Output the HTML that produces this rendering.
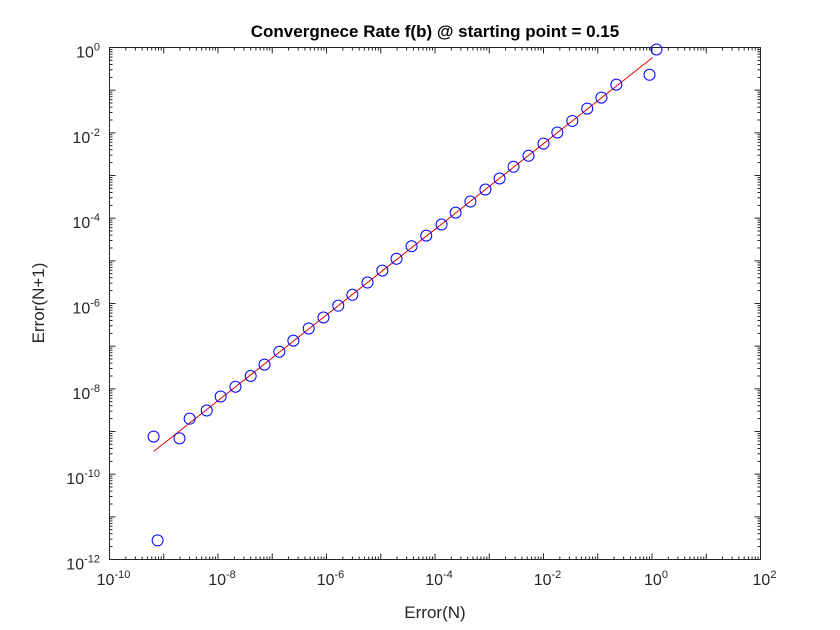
<!DOCTYPE html>
<html><head><meta charset="utf-8"><style>
body{margin:0;background:#fff;}
svg{display:block;font-family:"Liberation Sans",Arial,sans-serif;}
</style></head><body>
<svg id="chart" width="840" height="630" viewBox="0 0 840 630">
<rect x="0" y="0" width="840" height="630" fill="#fff"/>
<rect x="109.5" y="47.5" width="651" height="512" fill="#fff" stroke="#262626" stroke-width="1"/>
<g id="ticks"></g>
<g id="fit"></g>
<g id="pts"></g>
<text x="435" y="37" text-anchor="middle" font-size="17" font-weight="bold" fill="#000">Convergnece Rate f(b) @ starting point = 0.15</text>
<text x="435" y="618" text-anchor="middle" font-size="17" fill="#262626">Error(N)</text>
<text transform="translate(44,303) rotate(-90)" text-anchor="middle" font-size="17" fill="#262626">Error(N+1)</text>
</svg>
<script>
const xVals=[6.5e-10,7.7e-10,1.95e-9,3.0e-9,6.2e-9,1.12e-8,2.1e-8,4.0e-8,7.2e-8,1.35e-7,2.45e-7,4.7e-7,8.8e-7,1.65e-6,3.0e-6,5.7e-6,1.07e-5,1.95e-5,3.7e-5,6.9e-5,1.32e-4,2.4e-4,4.5e-4,8.5e-4,1.55e-3,2.8e-3,5.3e-3,1.0e-2,1.8e-2,3.4e-2,6.4e-2,0.117,0.22,0.9,1.21];
const yVals=[7.6e-10,2.8e-12,6.9e-10,2.0e-9,3.1e-9,6.6e-9,1.12e-8,2.0e-8,3.7e-8,7.4e-8,1.35e-7,2.6e-7,4.7e-7,8.9e-7,1.6e-6,3.1e-6,5.9e-6,1.12e-5,2.2e-5,3.9e-5,7.1e-5,1.35e-4,2.45e-4,4.7e-4,8.5e-4,1.6e-3,2.9e-3,5.6e-3,1.02e-2,1.9e-2,3.7e-2,6.7e-2,0.135,0.23,0.9];
const fitX=[6.5e-10,1.02];
const fitY=[3.4e-10,0.58];
const xTickExps=[-10,-8,-6,-4,-2,0,2];
const yTickExps=[-12,-10,-8,-6,-4,-2,0];
const X0=109.5,X1=760.5,Y0=559.5,Y1=47.5,XMIN=-10,XMAX=2,YMIN=-12,YMAX=0;
function sx(v){return X0+(Math.log10(v)-XMIN)/(XMAX-XMIN)*(X1-X0);}
function sy(v){return Y0-(Math.log10(v)-YMIN)/(YMAX-YMIN)*(Y0-Y1);}
const NS='http://www.w3.org/2000/svg';
function mk(t,a,p){const e=document.createElementNS(NS,t);for(const k in a)e.setAttribute(k,a[k]);p.appendChild(e);return e;}
const tg=document.getElementById('ticks');
let d='';
for(let e=XMIN;e<XMAX;e++){for(let m=1;m<10;m++){const x=sx(m*Math.pow(10,e));const L=m===1?6:3;d+=`M${x},${Y0}v${-L}M${x},${Y1}v${L}`;}}
d+=`M${X1},${Y0}v-6M${X1},${Y1}v6`;
for(let e=YMIN;e<YMAX;e++){for(let m=1;m<10;m++){const y=sy(m*Math.pow(10,e));const L=m===1?6:3;d+=`M${X0},${y}h${L}M${X1},${y}h${-L}`;}}
d+=`M${X0},${Y1}h6M${X1},${Y1}h-6`;
const tp=mk('path',{d:d,stroke:'#262626','stroke-width':1,fill:'none'},tg);


xTickExps.forEach(e=>{const x=sx(Math.pow(10,e));
 const t=mk('text',{x:x+4,y:585,'text-anchor':'middle','font-size':16,fill:'#262626'},tg);
 
 
 t.innerHTML='10<tspan dy="-7" font-size="11">'+e+'</tspan>';});
yTickExps.forEach(e=>{const y=sy(Math.pow(10,e));
 const t=mk('text',{x:100,y:y+10,'text-anchor':'end','font-size':16,fill:'#262626'},tg);
 
 
 t.innerHTML='10<tspan dy="-7" font-size="11">'+e+'</tspan>';});
const fl=mk('line',{x1:sx(fitX[0]),y1:sy(fitY[0]),x2:sx(fitX[1]),y2:sy(fitY[1]),stroke:'#e00000','stroke-width':1},document.getElementById('fit'));


const pg=document.getElementById('pts');
xVals.forEach((v,i)=>{const c=mk('circle',{cx:sx(v),cy:sy(yVals[i]),r:5.5,fill:'none',stroke:'#0000ff','stroke-width':1},pg);
 
 });
</script>
</body></html>
